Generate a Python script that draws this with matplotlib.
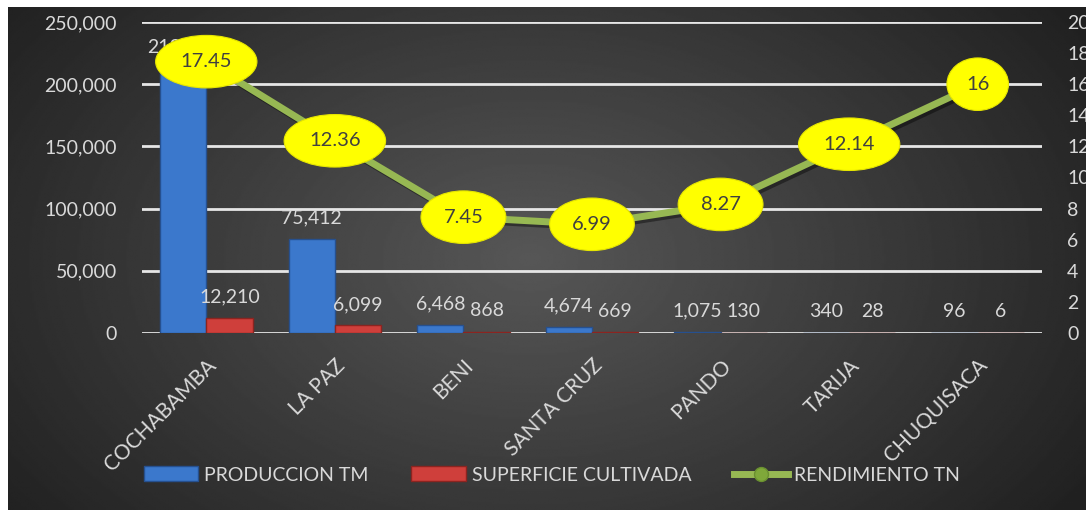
import matplotlib.pyplot as plt
import numpy as np
from matplotlib.lines import Line2D
from matplotlib.patches import Patch
import matplotlib.patheffects as pe

plt.rcParams["font.family"] = ["Lato", "DejaVu Sans"]

departamentos = ["COCHABAMBA", "LA PAZ", "BENI", "SANTA CRUZ", "PANDO", "TARIJA", "CHUQUISACA"]
produccion_tm = [213096, 75412, 6468, 4674, 1075, 340, 96]
superficie_cultivada = [12210, 6099, 868, 669, 130, 28, 6]
rendimiento_tn = [17.45, 12.36, 7.45, 6.99, 8.27, 12.14, 16]
rendimiento_lbl = ["17.45", "12.36", "7.45", "6.99", "8.27", "12.14", "16"]

W, H = 1086, 511
fig = plt.figure(figsize=(W / 100, H / 100), dpi=100, facecolor="white")

# dark radial background of the chart area
bg = fig.add_axes([8 / W, 1 / H, (W - 8) / W, (H - 8) / H], zorder=-10)
yy, xx = np.mgrid[0:300, 0:600]
r = np.sqrt(((xx - 290) / 330) ** 2 + ((yy - 150) / 230) ** 2)
shade = np.clip(0.34 - 0.19 * r, 0.13, 0.34)
bg.imshow(shade, cmap="gray", vmin=0, vmax=1, aspect="auto", interpolation="bilinear")
bg.set_axis_off()

ax = fig.add_axes([142 / W, 1 - 333 / H, 900 / W, 311 / H])
ax.set_facecolor("none")
ax2 = ax.twinx()

x = np.arange(len(departamentos))
bw = 0.36
fs = 14
txt = "#d9d9d9"

b1 = ax.bar(x - bw / 2, produccion_tm, bw, color="#3b78cc", edgecolor="#26508f", linewidth=1, zorder=3)
b2 = ax.bar(x + bw / 2, superficie_cultivada, bw, color="#cf3f3b", edgecolor="#8c2420", linewidth=1, zorder=3)
for bars, vals in ((b1, produccion_tm), (b2, superficie_cultivada)):
    for rect, v in zip(bars, vals):
        ax.annotate(f"{v:,}", (rect.get_x() + rect.get_width() / 2, rect.get_height()),
                    xytext=(0, 9), textcoords="offset points", ha="center", va="bottom",
                    fontsize=fs, color=txt, zorder=4)

ax.set_ylim(0, 250000)
ax.set_yticks(np.arange(0, 250001, 50000))
ax.yaxis.set_major_formatter(plt.FuncFormatter(lambda v, p: f"{int(v):,}"))
ax.set_xlim(-0.5, len(departamentos) - 0.5)
ax.grid(axis="y", color="#e6e6e6", linewidth=2, zorder=1)
ax.set_axisbelow(True)
ax.set_xticks(x)
ax.set_xticklabels(departamentos, rotation=45, ha="right", va="top", rotation_mode="anchor")
ax.tick_params(axis="x", length=0, pad=16, labelsize=15, labelcolor=txt)
ax.tick_params(axis="y", length=0, pad=18, labelsize=fs, labelcolor=txt)

ax2.plot(x, rendimiento_tn, color="#97b853", linewidth=5, zorder=5,
         path_effects=[pe.SimpleLineShadow(offset=(2, -2), alpha=0.4), pe.Normal()])
for xi, v, lbl in zip(x, rendimiento_tn, rendimiento_lbl):
    ax2.annotate(lbl, (xi, v), ha="center", va="center", fontsize=14.5, color="#404040", zorder=6,
                 bbox=dict(boxstyle="ellipse,pad=0.5", fc="#ffff00", ec="#e6e600", lw=0.8))
ax2.set_ylim(0, 20)
ax2.set_yticks(np.arange(0, 21, 2))
ax2.tick_params(axis="y", length=0, pad=18, labelsize=fs, labelcolor=txt)

for a in (ax, ax2):
    for s in a.spines.values():
        s.set_visible(False)

handles = [
    Patch(facecolor="#3b78cc", edgecolor="#26508f"),
    Patch(facecolor="#cf3f3b", edgecolor="#8c2420"),
    Line2D([0], [0], color="#97b853", linewidth=5, marker="o", markersize=10,
           markerfacecolor="#7fa83a", markeredgecolor="#6a9030"),
]
fig.legend(handles, ["PRODUCCION TM", "SUPERFICIE CULTIVADA", "RENDIMIENTO TN"],
           loc="center", bbox_to_anchor=(552 / W, 1 - 475 / H), ncol=3, frameon=False,
           fontsize=fs, labelcolor=txt, handlelength=2.8, handleheight=0.8,
           columnspacing=2.2, handletextpad=0.3)

fig.savefig("out.png", dpi=100, facecolor="white")
